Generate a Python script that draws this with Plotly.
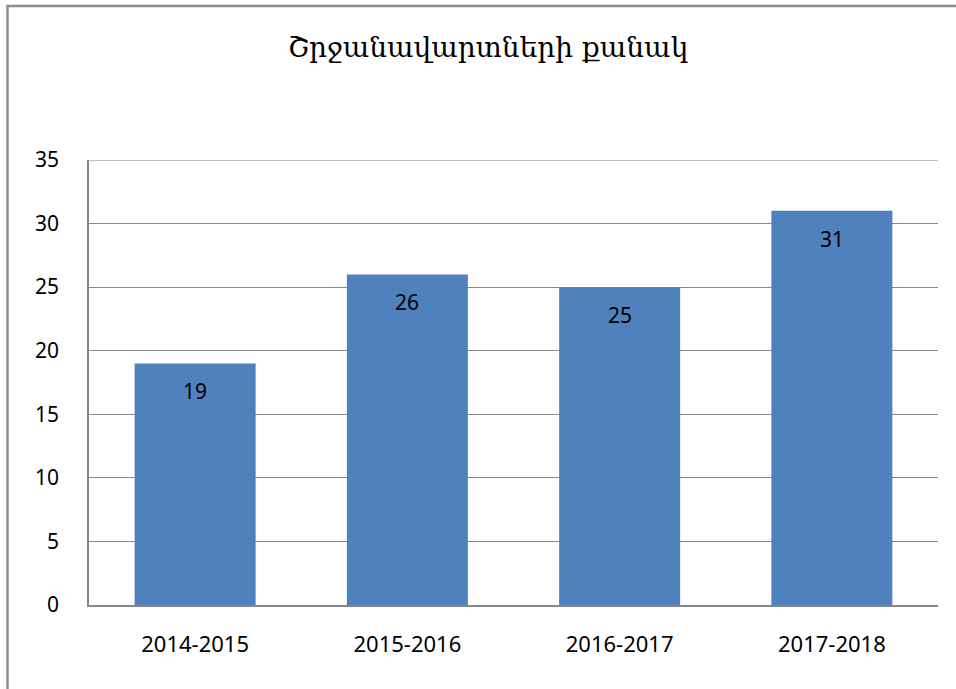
import plotly.graph_objects as go

categories = ["2014-2015", "2015-2016", "2016-2017", "2017-2018"]
values = [19, 26, 25, 31]
title_text = "Շրջանավարտների քանակ"
y_max = 35

L, R, T, B = 89, 18, 160, 84
W, H = 956, 689
pw, ph = W - L - R, H - T - B

fig = go.Figure()
fig.add_trace(go.Bar(x=categories, y=values, marker=dict(color="#4F81BD", line=dict(width=0)),
                     width=0.57, hoverinfo="skip"))

for c, v in zip(categories, values):
    fig.add_annotation(x=c, y=v, text=str(v), showarrow=False, yshift=-28,
                       font=dict(size=21, color="black", family="Noto Sans"))

def px2x(px):
    return (px - L) / pw

def py2y(py):
    return (H - B - py) / ph

# top gridline at the axis maximum
fig.add_shape(type="line", xref="paper", yref="y", x0=0, x1=1, y0=y_max, y1=y_max,
              line=dict(color="#868686", width=1.2), layer="below")

fig.add_shape(type="rect", xref="paper", yref="paper",
              x0=px2x(7.5), x1=px2x(1000), y0=py2y(750), y1=py2y(6),
              line=dict(color="#8c8c8c", width=2.5), fillcolor="rgba(0,0,0,0)", layer="above")

fig.update_layout(
    width=W, height=H,
    margin=dict(l=L, r=R, t=T, b=B),
    paper_bgcolor="white", plot_bgcolor="white",
    showlegend=False,
    title=dict(text=title_text, x=488 / W, xanchor="center",
               y=1 - 47 / H, yanchor="middle",
               font=dict(family="DejaVu Serif", size=28, color="black")),
    font=dict(family="Noto Sans", size=22, color="black"),
    xaxis=dict(showgrid=False, showline=True, linecolor="#868686", linewidth=1.5,
               ticks="", ticklabelstandoff=19, tickfont=dict(size=22)),
    yaxis=dict(range=[0, y_max], dtick=5, showgrid=True, gridcolor="#868686", gridwidth=1.2,
               showline=True, linecolor="#868686", linewidth=1.5, zeroline=False,
               ticks="", ticklabelstandoff=24, tickfont=dict(size=21)),
)

fig.write_html("out.html")
